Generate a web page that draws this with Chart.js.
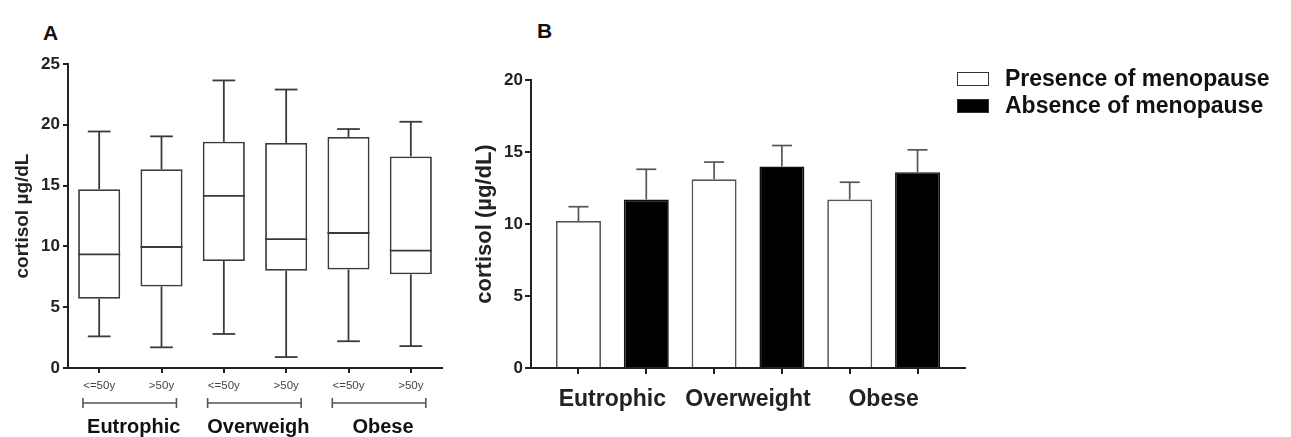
<!DOCTYPE html>
<html>
<head>
<meta charset="utf-8">
<script src="https://cdn.jsdelivr.net/npm/chart.js@4.4.1/dist/chart.umd.min.js"></script>
<style>
  body { margin: 0; background: #fff; width: 1291px; height: 437px; position: relative; overflow: hidden; font-family: "Liberation Sans", Arial, sans-serif; }
  .letter { position: absolute; font-weight: bold; font-size: 21px; color: #111; line-height: 1; }
  #wrapA { position: absolute; left: 0; top: 0; }
  #wrapB { position: absolute; left: 460px; top: 0; }
  #legendB { position: absolute; left: 957px; top: 65px; }
  #legendB .item { display: flex; align-items: center; height: 27px; }
  #legendB .swatch { width: 32px; height: 14px; box-sizing: border-box; border: 1.5px solid #333; margin-right: 16px; }
  #legendB .txt { font-weight: bold; font-size: 23px; color: #111; }
</style>
</head>
<body>
<div class="letter" style="left:43px; top:22px;">A</div>
<div class="letter" style="left:537px; top:20px;">B</div>
<div id="wrapA"><canvas id="chartA" width="460" height="437"></canvas></div>
<div id="wrapB"><canvas id="chartB" width="540" height="437"></canvas></div>
<div id="legendB"></div>

<script>
// ---------- datos panel A (cajas) ----------
const ageLabels = ["<=50y", ">50y", "<=50y", ">50y", "<=50y", ">50y"];
const groupNamesA = ["Eutrophic", "Overweigh", "Obese"];
const boxMin = [2.6, 1.7, 2.8, 0.9, 2.2, 1.8];
const boxQ1 = [5.7, 6.7, 8.8, 8.0, 8.1, 7.7];
const boxMedian = [9.35, 9.95, 14.15, 10.6, 11.1, 9.65];
const boxQ3 = [14.7, 16.35, 18.6, 18.5, 19.0, 17.4];
const boxMax = [19.45, 19.05, 23.65, 22.9, 19.65, 20.25];
const yTicksA = { min: 0, max: 25, step: 5 };

// ---------- datos panel B (barras) ----------
const groupNamesB = ["Eutrophic", "Overweight", "Obese"];
const seriesNames = ["Presence of menopause", "Absence of menopause"];
const presenceMean = [10.2, 13.1, 11.7];
const presenceSem = [1.0, 1.2, 1.2];
const absenceMean = [11.7, 14.0, 13.6];
const absenceSem = [2.1, 1.45, 1.55];
const yTicksB = { min: 0, max: 20, step: 5 };

const FONT = "'Liberation Sans', Arial, sans-serif";
const AXIS = "#222";

function line(ctx, x1, y1, x2, y2) {
  ctx.beginPath();
  ctx.moveTo(x1, y1);
  ctx.lineTo(x2, y2);
  ctx.stroke();
}

// bigotes y mediana
const boxWhiskers = {
  id: "boxWhiskers",
  afterDatasetsDraw(chart) {
    const { ctx, scales: { y } } = chart;
    ctx.save();
    ctx.strokeStyle = "#3a3a3a";
    ctx.lineWidth = 1.8;
    chart.getDatasetMeta(0).data.forEach((bar, i) => {
      const cx = bar.x, half = bar.width / 2, cap = bar.width * 0.27;
      const yMax = y.getPixelForValue(boxMax[i]);
      const yMin = y.getPixelForValue(boxMin[i]);
      const yMed = y.getPixelForValue(boxMedian[i]);
      line(ctx, cx, y.getPixelForValue(boxQ3[i]), cx, yMax);
      line(ctx, cx, y.getPixelForValue(boxQ1[i]), cx, yMin);
      line(ctx, cx - cap, yMax, cx + cap, yMax);
      line(ctx, cx - cap, yMin, cx + cap, yMin);
      line(ctx, cx - half, yMed, cx + half, yMed);
    });
    ctx.restore();
  }
};

// corchetes de grupo bajo el eje
const groupBrackets = {
  id: "groupBrackets",
  afterDraw(chart) {
    const { ctx, chartArea, scales: { x } } = chart;
    const step = x.getPixelForValue(1) - x.getPixelForValue(0);
    const yb = chartArea.bottom + 35, yt = chartArea.bottom + 59;
    ctx.save();
    ctx.strokeStyle = "#555";
    ctx.lineWidth = 1.6;
    ctx.fillStyle = "#111";
    ctx.font = "bold 20px " + FONT;
    ctx.textAlign = "center";
    ctx.textBaseline = "middle";
    groupNamesA.forEach((name, g) => {
      const x1 = x.getPixelForValue(2 * g) - step * 0.26;
      const x2 = x.getPixelForValue(2 * g + 1) + step * 0.24;
      line(ctx, x1, yb, x2, yb);
      line(ctx, x1, yb - 5, x1, yb + 5);
      line(ctx, x2, yb - 5, x2, yb + 5);
      ctx.fillText(name, (x1 + x2) / 2 + 4, yt);
    });
    ctx.restore();
  }
};

// barras de error (solo hacia arriba)
const errorBars = {
  id: "errorBars",
  afterDatasetsDraw(chart) {
    const { ctx, scales: { y } } = chart;
    const sems = [presenceSem, absenceSem];
    ctx.save();
    ctx.strokeStyle = "#555";
    ctx.lineWidth = 1.7;
    chart.data.datasets.forEach((ds, d) => {
      chart.getDatasetMeta(d).data.forEach((bar, i) => {
        const top = y.getPixelForValue(ds.data[i].y + sems[d][i]);
        line(ctx, bar.x, bar.y, bar.x, top);
        line(ctx, bar.x - 10, top, bar.x + 10, top);
      });
    });
    ctx.restore();
  }
};

function axisGrid(len) {
  return { display: true, offset: false, drawOnChartArea: false, drawTicks: true, tickLength: len, color: AXIS, lineWidth: 2 };
}

// ===============================
// PANEL A
// ===============================
new Chart(document.getElementById("chartA"), {
  type: "bar",
  data: {
    labels: ageLabels,
    datasets: [{
      label: "cortisol",
      data: boxQ1.map((q1, i) => [q1, boxQ3[i]]),
      backgroundColor: "#fff",
      borderColor: "#3a3a3a",
      borderWidth: 1.8,
      borderSkipped: false,
      categoryPercentage: 1,
      barPercentage: 0.675
    }]
  },
  options: {
    responsive: false,
    animation: false,
    layout: { padding: { top: 64, right: 18, left: 0, bottom: 0 } },
    plugins: { legend: { display: false }, tooltip: { enabled: false } },
    scales: {
      x: {
        grid: axisGrid(5),
        border: { display: true, color: AXIS, width: 2 },
        ticks: { font: { family: FONT, size: 11.5 }, color: "#444", padding: 6, maxRotation: 0, autoSkip: false },
        afterFit: s => { s.height = 69; }
      },
      y: {
        min: yTicksA.min, max: yTicksA.max,
        grid: axisGrid(5),
        border: { display: true, color: AXIS, width: 2 },
        ticks: { stepSize: yTicksA.step, font: { family: FONT, size: 17, weight: "bold" }, color: AXIS, padding: 3 },
        title: { display: true, text: "cortisol µg/dL", font: { family: FONT, size: 19, weight: "bold" }, color: AXIS, padding: { top: 11, bottom: 0 } },
        afterFit: s => { s.width = 68; }
      }
    }
  },
  plugins: [boxWhiskers, groupBrackets]
});

// ===============================
// PANEL B
// ===============================
const barTicksB = [], groupTicksB = [];
groupNamesB.forEach((_, g) => {
  barTicksB.push(2 * g + 1, 2 * g + 2);
  groupTicksB.push(2 * g + 1.5);
});

const chartB = new Chart(document.getElementById("chartB"), {
  type: "bar",
  data: {
    datasets: [
      {
        label: seriesNames[0],
        data: presenceMean.map((v, i) => ({ x: 2 * i + 1, y: v })),
        backgroundColor: "#fff",
        borderColor: "#555",
        borderWidth: 1.7
      },
      {
        label: seriesNames[1],
        data: absenceMean.map((v, i) => ({ x: 2 * i + 2, y: v })),
        backgroundColor: "#000",
        borderColor: "#111",
        borderWidth: 1.7
      }
    ]
  },
  options: {
    responsive: false,
    animation: false,
    grouped: false,
    categoryPercentage: 1,
    barPercentage: 0.663,
    layout: { padding: { top: 80, right: 35, left: 0, bottom: 0 } },
    plugins: { legend: { display: false }, tooltip: { enabled: false } },
    scales: {
      x: {
        type: "linear",
        offset: false,
        min: 0.3, max: 6.7,
        weight: 0,
        afterBuildTicks: s => { s.ticks = barTicksB.map(v => ({ value: v })); },
        grid: { display: true, offset: false, drawOnChartArea: false, drawTicks: true, tickLength: 6, lineWidth: 2, color: AXIS },
        border: { display: true, color: AXIS, width: 2 },
        ticks: { display: false },
        afterFit: s => { s.height = 6; }
      },
      groups: {
        type: "linear",
        position: "bottom",
        offset: false,
        min: 0.3, max: 6.7,
        weight: 1,
        afterBuildTicks: s => { s.ticks = groupTicksB.map(v => ({ value: v })); },
        grid: { display: false },
        border: { display: false },
        ticks: {
          autoSkip: false, maxRotation: 0, minRotation: 0, padding: 4,
          font: { family: FONT, size: 23, weight: "bold" }, color: AXIS,
          callback: v => groupNamesB[groupTicksB.indexOf(v)]
        },
        afterFit: s => { s.height = 63; }
      },
      y: {
        min: yTicksB.min, max: yTicksB.max,
        grid: axisGrid(6),
        border: { display: true, color: AXIS, width: 2 },
        ticks: { stepSize: yTicksB.step, font: { family: FONT, size: 17, weight: "bold" }, color: AXIS, padding: 2 },
        title: { display: true, text: "cortisol (µg/dL)", font: { family: FONT, size: 22, weight: "bold" }, color: AXIS, padding: { top: 12, bottom: 0 } },
        afterFit: s => { s.width = 71; }
      }
    }
  },
  plugins: [errorBars]
});

// leyenda HTML
const legendBox = document.getElementById("legendB");
chartB.data.datasets.forEach(ds => {
  const item = document.createElement("div");
  item.className = "item";
  item.innerHTML = `<span class="swatch" style="background:${ds.backgroundColor}"></span><span class="txt">${ds.label}</span>`;
  legendBox.appendChild(item);
});
</script>
</body>
</html>
